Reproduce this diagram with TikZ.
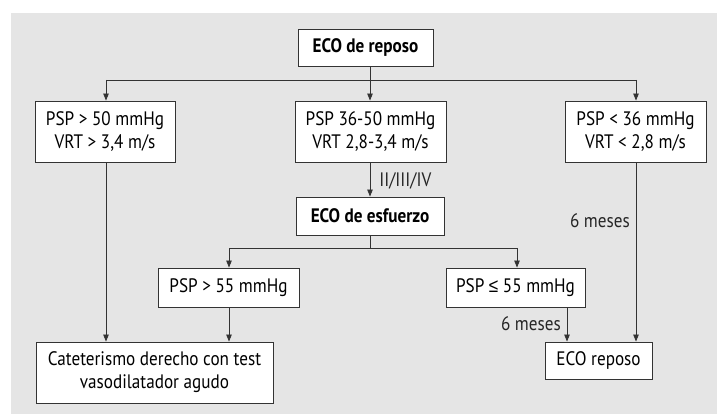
\documentclass[tikz,border=0pt]{standalone}
\usepackage{fontspec}
\setmainfont{PT Sans}[FakeStretch=0.88]
\newfontfamily\symfont{Liberation Sans}[FakeStretch=0.88]
\usetikzlibrary{arrows.meta}
\definecolor{bgc}{HTML}{E5E5E5}
\definecolor{lnc}{HTML}{333333}
\begin{document}
\begin{tikzpicture}[x=1pt,y=-1pt,
  box/.style={draw=lnc,line width=0.9pt,fill=white,inner sep=0pt,align=center,
    font=\fontsize{19.5}{23}\selectfont},
  lbl/.style={inner sep=0pt,font=\fontsize{19.5}{23}\selectfont,text=black!85},
  conn/.style={draw=lnc,line width=0.8pt},
  arr/.style={conn,-{Triangle[length=7pt,width=5.5pt]}}]
\useasboundingbox (0,0) rectangle (717,414);
\fill[bgc] (11,13) rectangle (717,414);
% boxes
\node[box,minimum width=135pt,minimum height=37pt,font=\fontsize{19.5}{23}\selectfont\bfseries] (rep) at (365.5,47.5) {ECO de reposo};
\node[box,minimum width=140pt,minimum height=61pt] (b1) at (105,131.5) {PSP > 50 mmHg\\VRT > 3,4 m/s};
\node[box,minimum width=151pt,minimum height=61pt] (b2) at (370.5,131.5) {PSP 36-50 mmHg\\VRT 2,8-3,4 m/s};
\node[box,minimum width=141pt,minimum height=61pt] (b3) at (635.5,131.5) {PSP < 36 mmHg\\VRT < 2,8 m/s};
\node[box,minimum width=148pt,minimum height=38pt,font=\fontsize{19.5}{23}\selectfont\bfseries] (esf) at (370,216) {ECO de esfuerzo};
\node[box,minimum width=141pt,minimum height=39pt] (c1) at (228.5,287.5) {PSP > 55 mmHg};
\node[box,minimum width=139pt,minimum height=39pt] (c2) at (515.5,287.5) {PSP {\symfont ≤} 55 mmHg};
\node[box,minimum width=237pt,minimum height=61pt] (cat) at (154.5,372.5) {Cateterismo derecho con test\\vasodilatador agudo};
\node[box,minimum width=107pt,minimum height=37pt] (er) at (598.5,360.5) {ECO reposo};
% junction coordinates
\coordinate (j0) at (370,80);
\coordinate (jl) at (106,80);
\coordinate (jr) at (636,80);
\coordinate (k0) at (370,248);
\coordinate (kl) at (229,248);
\coordinate (kr) at (517,248);
\coordinate (xa) at (106,0);
\coordinate (xb) at (229,0);
\coordinate (xc) at (567,0);
\coordinate (xd) at (636,0);
% connectors
\draw[conn] (rep.south -| j0) -- (j0);
\draw[conn] (jl) -- (jr);
\draw[arr] (jl) -- (b1.north -| jl);
\draw[arr] (j0) -- (b2.north -| j0);
\draw[arr] (jr) -- (b3.north -| jr);
\draw[arr] (b2.south -| j0) -- node[lbl,anchor=west,xshift=9pt,yshift=-1pt] (l1) {II/III/IV} (esf.north -| j0);
\draw[conn] (esf.south -| k0) -- (k0);
\draw[conn] (kl) -- (kr);
\draw[arr] (kl) -- (c1.north -| kl);
\draw[arr] (kr) -- (c2.north -| kr);
\draw[arr] (b1.south -| xa) -- (cat.north -| xa);
\draw[arr] (c1.south -| xb) -- (cat.north -| xb);
\draw[arr] (c2.south -| xc) -- (er.north -| xc);
\draw[arr] (b3.south -| xd) -- (er.north -| xd);
% labels
\node[lbl,anchor=east] (l2) at (630,221) {6 meses};
\node[lbl,anchor=east] (l3) at (561,324) {6 meses};
\end{tikzpicture}
\end{document}
